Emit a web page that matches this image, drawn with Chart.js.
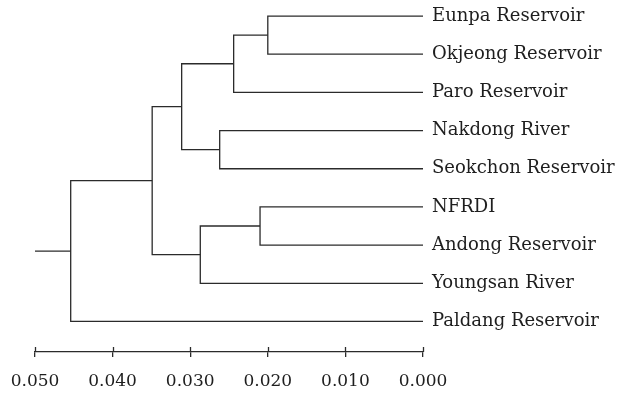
<!DOCTYPE html>
<html>
<head>
<meta charset="utf-8">
<script src="https://cdn.jsdelivr.net/npm/chart.js@4/dist/chart.umd.min.js"></script>
<style>
html,body{margin:0;padding:0;background:#fff;}
#wrap{width:626px;height:395px;}
</style>
</head>
<body>
<div id="wrap"><canvas id="c" width="626" height="395"></canvas></div>
<script>
// Leaves in display order (top to bottom)
const leaves = ['Eunpa Reservoir','Okjeong Reservoir','Paro Reservoir','Nakdong River','Seokchon Reservoir','NFRDI','Andong Reservoir','Youngsan River','Paldang Reservoir'];
// Merges: [childA, childB, distance]; leaves are 0..8, new clusters numbered from 9
const mergeA = [0, 9, 3, 10, 5, 13, 12, 15];
const mergeB = [1, 2, 4, 11, 6, 7, 14, 8];
const mergeDist = [0.0200, 0.0244, 0.0262, 0.0311, 0.0210, 0.0287, 0.0349, 0.0454];
const rootStart = 0.050;
const xTicks = [0.050, 0.040, 0.030, 0.020, 0.010, 0.000];

// Build node positions from the tree
const nodeY = leaves.map((_, i) => i);
const nodeX = leaves.map(() => 0);
const datasets = [];
const lineColor = '#2b2b2b';
for (let k = 0; k < mergeA.length; k++) {
  const a = mergeA[k], b = mergeB[k], h = mergeDist[k];
  datasets.push({
    data: [
      {x: nodeX[a], y: nodeY[a]},
      {x: h, y: nodeY[a]},
      {x: h, y: nodeY[b]},
      {x: nodeX[b], y: nodeY[b]}
    ]
  });
  nodeX.push(h);
  nodeY.push((nodeY[a] + nodeY[b]) / 2);
}
const root = nodeX.length - 1;
datasets.push({data: [{x: rootStart, y: nodeY[root]}, {x: nodeX[root], y: nodeY[root]}]});
datasets.forEach(d => {
  d.showLine = true; d.pointRadius = 0; d.borderColor = lineColor;
  d.borderWidth = 1.3; d.tension = 0; d.fill = false;
});

const upTicks = {
  id: 'upTicks',
  afterDraw(chart) {
    const s = chart.scales.x, ctx = chart.ctx;
    ctx.save();
    ctx.strokeStyle = lineColor; ctx.lineWidth = 1.3;
    s.ticks.forEach(t => {
      const px = Math.round(s.getPixelForValue(t.value)) + 0.5;
      ctx.beginPath(); ctx.moveTo(px, s.top - 5); ctx.lineTo(px, s.top); ctx.stroke();
    });
    ctx.restore();
  }
};

const serif = "'DejaVu Serif', serif";
new Chart(document.getElementById('c'), {
  type: 'scatter',
  data: {datasets},
  plugins: [upTicks],
  options: {
    responsive: false,
    animation: false,
    layout: {padding: {left: 35, top: 0, right: 0, bottom: 0}},
    plugins: {legend: {display: false}, tooltip: {enabled: false}},
    scales: {
      x: {
        type: 'linear', min: 0, max: 0.05, reverse: true, position: 'bottom',
        afterBuildTicks: s => { s.ticks = xTicks.map(v => ({value: v})); },
        afterFit: s => { s.height = 43; s.paddingLeft = 0; s.paddingRight = 0; },
        ticks: {
          callback: v => Number(v).toFixed(3),
          font: {family: serif, size: 17}, color: '#1e1e1e', padding: 14, maxRotation: 0
        },
        grid: {drawOnChartArea: false, drawTicks: true, tickLength: 5, color: lineColor, lineWidth: 1.3},
        border: {display: true, color: lineColor, width: 1.3}
      },
      y: {
        type: 'linear', min: -0.42, max: 8.8, reverse: true, position: 'right',
        afterBuildTicks: s => { s.ticks = leaves.map((_, i) => ({value: i})); },
        afterFit: s => { s.width = 203; s.paddingTop = 0; s.paddingBottom = 0; },
        ticks: {
          callback: (v) => leaves[v],
          font: {family: serif, size: 18}, color: '#1e1e1e', padding: 1
        },
        grid: {display: false},
        border: {display: false}
      }
    }
  }
});
</script>
</body>
</html>
